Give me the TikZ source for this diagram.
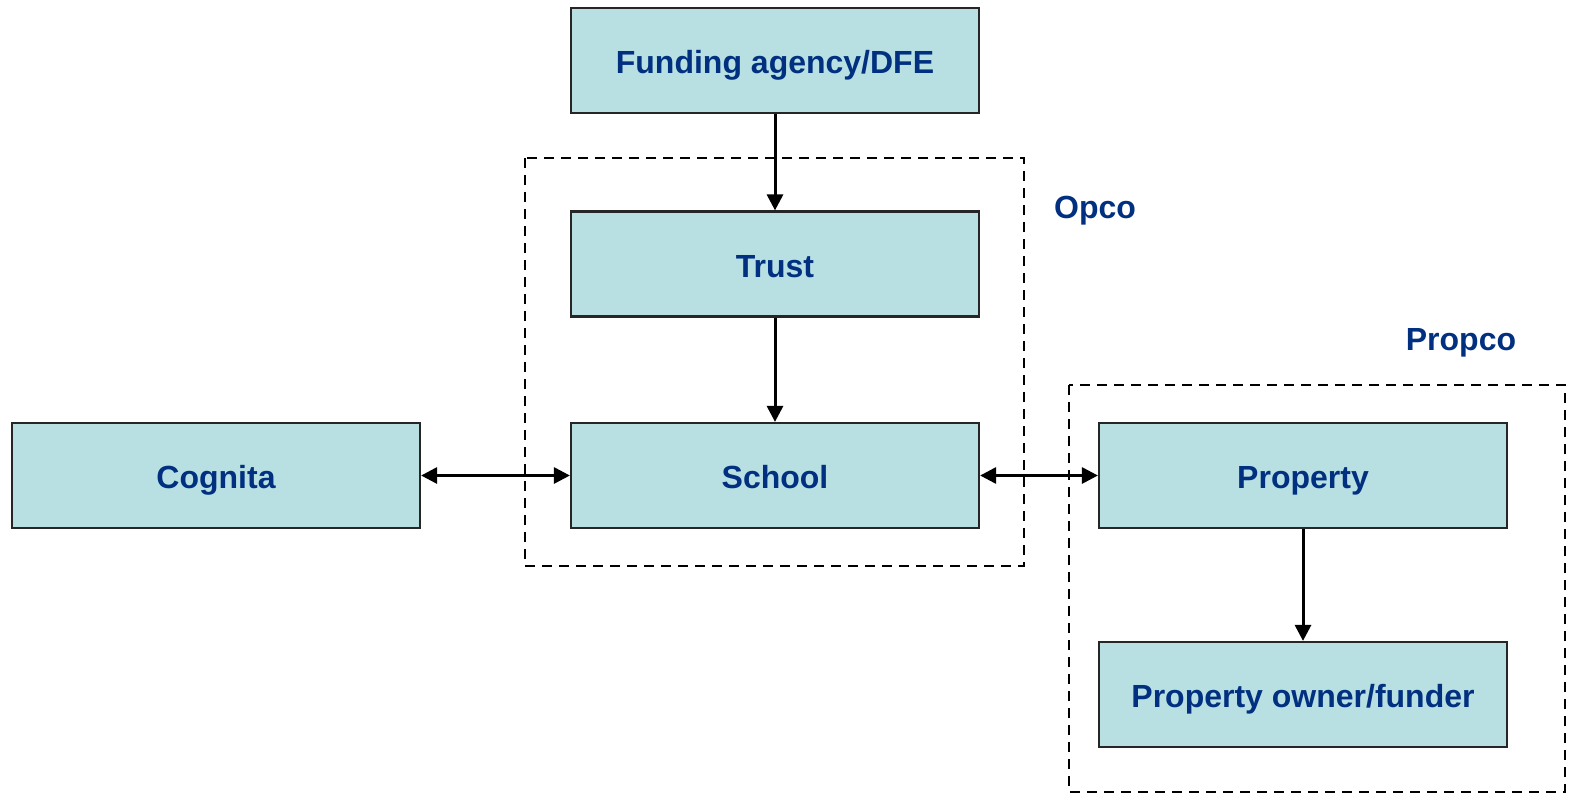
\documentclass[tikz,border=0pt]{standalone}
\usepackage{fontspec}
\setmainfont{Liberation Sans}
\usetikzlibrary{arrows.meta}
\definecolor{boxfill}{HTML}{B8DFE2}
\definecolor{txtblue}{HTML}{00307F}
\begin{document}
\begin{tikzpicture}[x=1pt,y=-1pt,
  ent/.style={draw=black!85, line width=2.2pt, fill=boxfill, minimum width=408pt, minimum height=105pt, inner sep=0pt,
    text height=30pt, text depth=4pt,
    font=\fontsize{32}{38}\selectfont\bfseries, text=txtblue},
  grp/.style={draw=black, line width=2.5pt, dash pattern=on 10pt off 7pt},
  lbl/.style={font=\fontsize{32}{38}\selectfont\bfseries, text=txtblue, inner sep=0pt},
  conn/.style={line width=3pt, -{Triangle[length=16pt,width=16pt]}},
  bconn/.style={line width=3pt, {Triangle[length=16pt,width=16pt]}-{Triangle[length=16pt,width=16pt]}}]
\useasboundingbox (0,0) rectangle (1570,795);
\draw[grp] (525,158) rectangle (1024,566);
\draw[grp] (1069,385) rectangle (1565,792);
\node[ent] (fund) at (775,60.5) {Funding agency/DFE};
\node[ent] (trust) at (775,264) {Trust};
\node[ent] (school) at (775,475.5) {School};
\node[ent] (cog) at (216,475.5) {Cognita};
\node[ent] (prop) at (1303,475.5) {Property};
\node[ent] (owner) at (1303,694.5) {Property owner/funder};
\node[lbl] (opco) at (1095,211) {Opco};
\node[lbl] (propco) at (1461,343) {Propco};
\draw[conn] (fund) -- (trust);
\draw[conn] (trust) -- (school);
\draw[conn] (prop) -- (owner);
\draw[bconn] (cog) -- (school);
\draw[bconn] (school) -- (prop);
\end{tikzpicture}
\end{document}
